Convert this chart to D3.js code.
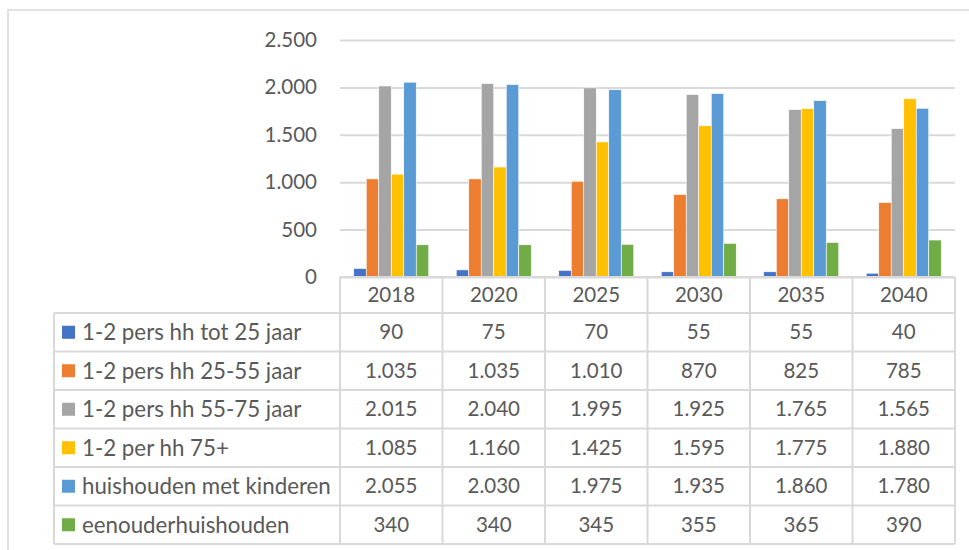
<!DOCTYPE html>
<html><head><meta charset="utf-8">
<script src="https://cdn.jsdelivr.net/npm/d3@7"></script>
<style>body{margin:0;background:#fff}svg{display:block}</style>
</head><body>
<script>
const years = ["2018","2020","2025","2030","2035","2040"];
const seriesNames = ["1-2 pers hh tot 25 jaar","1-2 pers hh 25-55 jaar","1-2 pers hh 55-75 jaar","1-2 per hh 75+","huishouden met kinderen","eenouderhuishouden"];
const s1 = [90,75,70,55,55,40];
const s2 = [1035,1035,1010,870,825,785];
const s3 = [2015,2040,1995,1925,1765,1565];
const s4 = [1085,1160,1425,1595,1775,1880];
const s5 = [2055,2030,1975,1935,1860,1780];
const s6 = [340,340,345,355,365,390];
const yTicks = [0,500,1000,1500,2000,2500];
const colors = ["#4472C4","#ED7D31","#A5A5A5","#FFC000","#5B9BD5","#70AD47"];
const seriesValues = [s1,s2,s3,s4,s5,s6];

const W=969,H=550;
const svg=d3.select("body").append("svg").attr("width",W).attr("height",H);
const font="Lato, 'Open Sans', sans-serif";
const txt="#595959", grid="#D9D9D9";
const loc=d3.formatLocale({decimal:",",thousands:".",grouping:[3],currency:["€",""]});
const fmt=loc.format(",d");

// outer border
svg.append("rect").attr("x",8).attr("y",10).attr("width",W).attr("height",H).attr("fill","none").attr("stroke",grid).attr("stroke-width",1.5);

const plotL=340, plotR=955, plotT=40, plotB=277;
const x0=d3.scaleBand().domain(years).range([plotL,plotR]);
const x1=d3.scaleBand().domain(d3.range(seriesNames.length)).range([0,x0.bandwidth()]).paddingInner(0).paddingOuter(1.1);
const y=d3.scaleLinear().domain([0,2500]).range([plotB,plotT]);

// gridlines + y labels
const yAxis=d3.axisLeft(y).tickValues(yTicks).tickFormat(fmt).tickSize(-(plotR-plotL)).tickPadding(23);
const ga=svg.append("g").attr("transform",`translate(${plotL},0)`).call(yAxis);
ga.select(".domain").remove();
ga.selectAll(".tick line").attr("stroke",grid).attr("stroke-width",2);
ga.selectAll(".tick text").attr("fill",txt).style("font-family",font).style("font-size","20.5px");

// bars
const groups=svg.append("g").selectAll("g").data(years).join("g").attr("transform",d=>`translate(${x0(d)},0)`);
groups.selectAll("rect").data((d,i)=>seriesValues.map((s,k)=>({k,v:s[i]}))).join("rect")
  .attr("x",d=>x1(d.k)).attr("width",x1.bandwidth())
  .attr("y",d=>y(d.v)).attr("height",d=>plotB-y(d.v))
  .attr("fill",d=>colors[d.k]).attr("stroke","#fff").attr("stroke-width",0.6);

// data table
const tableL=54, headT=277, headB=313, rowH=(544-313)/6;
const tg=svg.append("g");
const line=(x1_,y1_,x2_,y2_)=>tg.append("line").attr("x1",x1_).attr("y1",y1_).attr("x2",x2_).attr("y2",y2_).attr("stroke",grid).attr("stroke-width",2);
line(plotL,headT,plotR,headT);
for(let r=0;r<=6;r++){ line(tableL,headB+r*rowH,plotR,headB+r*rowH); }
line(tableL,headB,tableL,headB+6*rowH);
years.forEach(yr=>line(x0(yr),headT,x0(yr),headB+6*rowH));
line(plotR,headT,plotR,headB+6*rowH);

// header years
tg.selectAll("text.yr").data(years).join("text").attr("class","yr")
  .attr("x",d=>x0(d)+x0.bandwidth()/2).attr("y",(headT+headB)/2).attr("dy","0.35em")
  .attr("text-anchor","middle").attr("fill",txt).style("font-family",font).style("font-size","20.5px").text(d=>d);

// rows
seriesNames.forEach((name,k)=>{
  const cy=headB+k*rowH+rowH/2;
  tg.append("rect").attr("x",62).attr("y",cy-6.5).attr("width",13).attr("height",13).attr("fill",colors[k]);
  tg.append("text").attr("x",82).attr("y",cy).attr("dy","0.35em").attr("fill",txt).style("font-family",font).style("font-size","22.3px").text(name);
  tg.selectAll(null).data(seriesValues[k]).join("text")
    .attr("x",(d,i)=>x0(years[i])+x0.bandwidth()/2).attr("y",cy).attr("dy","0.35em")
    .attr("text-anchor","middle").attr("fill",txt).style("font-family",font).style("font-size","20.5px").text(d=>fmt(d));
});
</script>
</body></html>
